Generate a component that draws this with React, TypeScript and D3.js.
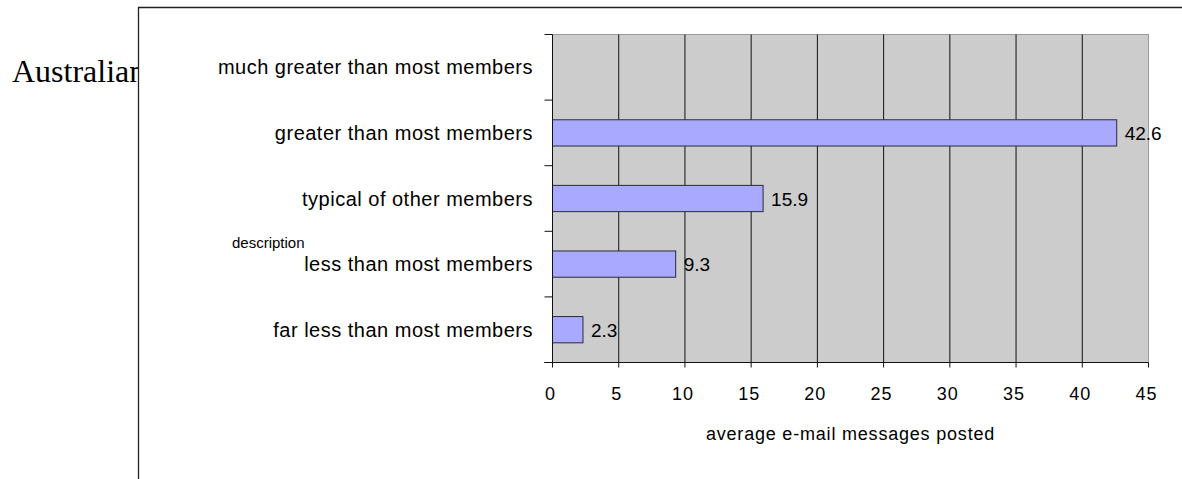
import React from 'react';
import * as d3 from 'd3';

// categories top to bottom
const categories = [
  'much greater than most members',
  'greater than most members',
  'typical of other members',
  'less than most members',
  'far less than most members',
];
const values: (number | null)[] = [null, 42.6, 15.9, 9.3, 2.3];
const xTicks = [0, 5, 10, 15, 20, 25, 30, 35, 40, 45];

const W = 1182;
const H = 479;
const plot = { left: 552.5, right: 1148.5, top: 34.5, bottom: 362.5 };

const App: React.FC = () => {
  const x = d3.scaleLinear().domain([0, 45]).range([plot.left, plot.right]);
  const y = d3.scaleBand<string>().domain(categories).range([plot.top, plot.bottom]).paddingInner(0.6).paddingOuter(0.3);
  const band = d3.scaleBand<string>().domain(categories).range([plot.top, plot.bottom]);
  const edges = [...categories.map(c => band(c)!), plot.bottom];
  const sans = 'Arial, "Liberation Sans", sans-serif';

  return (
    <svg width={W} height={H} style={{ position: 'absolute', left: 0, top: 0, display: 'block' }}>
      <defs>
        <clipPath id="leftclip">
          <rect x={0} y={0} width={138.5} height={H} />
        </clipPath>
      </defs>
      <rect x={0} y={0} width={W} height={H} fill="#fff" />
      <text x={12} y={82} fontFamily='"Times New Roman", "Liberation Serif", serif' fontSize={32} fill="#000" clipPath="url(#leftclip)">
        Australian
      </text>
      {/* outer frame */}
      <path d={`M138.5,${H} V7.5 H${W}`} fill="none" stroke="#222" strokeWidth={1.3} />

      {/* plot area */}
      <rect x={plot.left} y={plot.top} width={plot.right - plot.left} height={plot.bottom - plot.top} fill="#cccccc" stroke="#9a9a9a" strokeWidth={1} />
      {xTicks.slice(1, -1).map(t => (
        <line key={t} x1={x(t)} x2={x(t)} y1={plot.top} y2={plot.bottom} stroke="#111" strokeWidth={1} />
      ))}

      {/* bars */}
      {categories.map((c, i) =>
        values[i] == null ? null : (
          <g key={c}>
            <rect x={plot.left} y={y(c)!} width={x(values[i]!) - plot.left} height={y.bandwidth()} fill="#a9a9ff" stroke="#2a2a3a" strokeWidth={1} />
            <text x={x(values[i]!) + 8} y={y(c)! + y.bandwidth() / 2 + 7} fontFamily={sans} fontSize={19} fill="#000">
              {values[i]}
            </text>
          </g>
        )
      )}

      {/* axes */}
      <line x1={plot.left} x2={plot.left} y1={plot.top} y2={plot.bottom} stroke="#111" />
      {edges.map((e, i) => (
        <line key={i} x1={plot.left - 8} x2={plot.left} y1={e} y2={e} stroke="#111" />
      ))}
      <line x1={plot.left - 8} x2={plot.right} y1={plot.bottom} y2={plot.bottom} stroke="#111" />
      {xTicks.map(t => (
        <g key={t}>
          <line x1={x(t)} x2={x(t)} y1={plot.bottom} y2={plot.bottom + 5} stroke="#111" />
          <text x={x(t) - 2} y={400} textAnchor="middle" fontFamily={sans} fontSize={18} letterSpacing={1} fill="#000">
            {t}
          </text>
        </g>
      ))}

      {categories.map(c => (
        <text key={c} x={533} y={band(c)! + band.bandwidth() / 2 + 7} textAnchor="end" fontFamily={sans} fontSize={20} letterSpacing={0.5} fill="#000">
          {c}
        </text>
      ))}

      <text x={(plot.left + plot.right) / 2} y={440} textAnchor="middle" fontFamily={sans} fontSize={18} letterSpacing={0.8} fill="#000">
        average e-mail messages posted
      </text>
      <text x={232} y={248} fontFamily={sans} fontSize={15} fill="#000">
        description
      </text>
    </svg>
  );
};

export default App;
